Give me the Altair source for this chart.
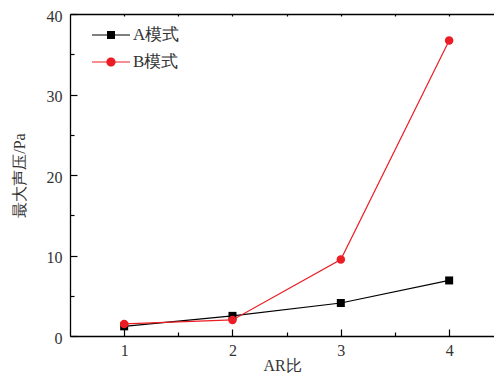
import altair as alt
import pandas as pd

# ---- data ----
ar_ratio = [1, 2, 3, 4]
mode_a = [1.2, 2.5, 4.1, 6.9]
mode_b = [1.5, 2.0, 9.5, 36.7]
series_names = ["A模式", "B模式"]
series_colors = ["#000000", "#ec1c24"]

x_major = [1, 2, 3, 4]
x_minor = [1.5, 2.5, 3.5]
y_major = [0, 10, 20, 30, 40]
y_minor = [5, 15, 25, 35]

rows = []
for name, vals in zip(series_names, [mode_a, mode_b]):
    for a, v in zip(ar_ratio, vals):
        rows.append({"ar": a, "value": v, "series": name})
df = pd.DataFrame(rows)

SERIF = "'Liberation Serif', serif"
TXT = "#333333"

xs = alt.Scale(domain=[0.5, 4.414], nice=False, zero=False)
ys = alt.Scale(domain=[0, 40], nice=False, zero=False)
cs = alt.Scale(domain=series_names, range=series_colors)

# legend symbols: line + marker
path_a = "M-1.9,-0.06H1.9V0.06H-1.9Z M-0.4,-0.4H0.4V0.4H-0.4Z"
path_b = "M-1.9,-0.06H1.9V0.06H-1.9Z M-0.46,0A0.46,0.46 0 1,1 0.46,0A0.46,0.46 0 1,1 -0.46,0Z"

frame_axis = dict(offset=0, ticks=False, labels=False, domain=True,
                  domainColor="black", domainWidth=1.3, title=None, grid=False)

base = alt.Chart(df)
data_a = base.transform_filter(alt.datum.series == series_names[0])
data_b = base.transform_filter(alt.datum.series == series_names[1])

line_a = data_a.mark_line(strokeWidth=1.2, color=series_colors[0]).encode(
    x=alt.X("ar:Q", scale=xs, axis=alt.Axis(
        orient="bottom", values=x_major, offset=-7, tickSize=7, domain=False,
        labelPadding=6, title="AR比", titlePadding=-1, format="d")),
    y=alt.Y("value:Q", scale=ys, axis=alt.Axis(
        orient="left", values=y_major, offset=-7, tickSize=7, domain=False,
        labelPadding=8, labelOffset=2, title="最大声压/Pa", titlePadding=19,
        format="d")),
)

pts_a = data_a.mark_point(
    shape="square", filled=True, size=64, opacity=1, color=series_colors[0]
).encode(
    x=alt.X("ar:Q", scale=xs, axis=alt.Axis(
        orient="bottom", values=x_minor, offset=-4, tickSize=4, domain=False,
        labels=False, title=None)),
    y=alt.Y("value:Q", scale=ys, axis=alt.Axis(
        orient="left", values=y_minor, offset=-4, tickSize=4, domain=False,
        labels=False, title=None)),
)

line_b = data_b.mark_line(strokeWidth=1.2, color=series_colors[1]).encode(
    x=alt.X("ar:Q", scale=xs, axis=alt.Axis(
        orient="top", values=x_major + x_minor, offset=-2, tickSize=2, domain=False,
        labels=False, title=None)),
    y=alt.Y("value:Q", scale=ys, axis=None),
)

pts_b = data_b.mark_point(
    shape="circle", filled=True, size=72, opacity=1, color=series_colors[1]
).encode(
    x=alt.X("ar:Q", scale=xs, axis=alt.Axis(orient="bottom", **frame_axis)),
    y=alt.Y("value:Q", scale=ys, axis=alt.Axis(orient="left", **frame_axis)),
)

leg_cfg = dict(orient="none", legendX=31, legendY=11, title=None, padding=0,
               symbolSize=400, symbolStrokeWidth=0, symbolOpacity=1,
               labelFont=SERIF, labelFontSize=17, labelColor=TXT,
               labelOffset=12, rowPadding=9)

legend_layer = base.mark_point(
    filled=True, size=400, opacity=0
).encode(
    x=alt.X("ar:Q", scale=xs, axis=alt.Axis(orient="top", **frame_axis)),
    y=alt.Y("value:Q", scale=ys, axis=None),
    color=alt.Color("series:N", scale=cs, legend=alt.Legend(**leg_cfg)),
    shape=alt.Shape("series:N", scale=alt.Scale(domain=series_names, range=[path_a, path_b]),
                    legend=alt.Legend(**leg_cfg)),
)

chart = alt.layer(line_a, pts_a, line_b, pts_b, legend_layer).resolve_axis(
    x="independent", y="independent"
).properties(
    width=424, height=322,
    autosize=alt.AutoSizeParams(type="none"),
    padding={"left": 62, "top": 6, "right": 0, "bottom": 37},
).configure_view(
    stroke="transparent"
).configure_axis(
    labelFont=SERIF, titleFont=SERIF, labelFontSize=16, titleFontSize=16,
    titleFontWeight="normal", labelColor=TXT, titleColor=TXT,
    tickColor="black", tickWidth=1.2, grid=False,
)

chart.save("out.html", embed_options={"renderer": "svg", "actions": False})
